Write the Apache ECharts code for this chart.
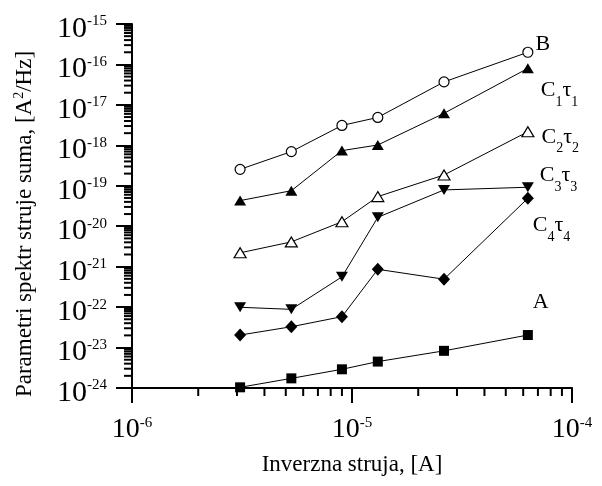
<!DOCTYPE html>
<html>
<head>
<meta charset="utf-8">
<script src="https://cdn.jsdelivr.net/npm/echarts@6/dist/echarts.min.js"></script>
<style>
  html, body { margin: 0; padding: 0; background: #fff; }
  #myChart { width: 602px; height: 486px; }
</style>
</head>
<body>
<div id="myChart"></div>
<script>
// inverzna struja [A]
var struja = [3.1e-6, 5.3e-6, 9.0e-6, 1.31e-5, 2.62e-5, 6.3e-5]

// parametri spektra [A^2/Hz]
var seriesA  = [1.04e-24, 1.73e-24, 2.9e-24, 4.5e-24, 8.3e-24, 2.04e-23]
var seriesB  = [2.55e-19, 7.0e-19, 3.1e-18, 4.9e-18, 3.7e-17, 2.0e-16]
var seriesC1 = [4.3e-20, 7.55e-20, 7.4e-19, 1.02e-18, 6.2e-18, 8.0e-17]
var seriesC2 = [2.2e-21, 4.1e-21, 1.29e-20, 5.4e-20, 1.85e-19, 2.17e-18]
var seriesC3 = [9.9e-23, 8.8e-23, 5.6e-22, 1.66e-20, 7.9e-20, 9.2e-20]
var seriesC4 = [2.04e-23, 3.27e-23, 5.8e-23, 8.6e-22, 4.9e-22, 4.9e-20]

// axis range (decades) and minor tick steps inside a decade
var xMin = 1e-6, xMax = 1e-4
var yMin = 1e-24, yMax = 1e-15
var xDecades = [-6, -5]
var yDecades = [-24, -23, -22, -21, -20, -19, -18, -17, -16]
var minorSteps = [2, 3, 4, 5, 6, 7, 8, 9]

// y values are plotted in units of 1e-24 so the log scale keeps its precision
var yExp = -24
var yUnit = Math.pow(10, yExp)

var font = '"Liberation Serif", "Times New Roman", serif'

var labelRich = {
  m: { fontFamily: font, fontSize: 22, lineHeight: 24, verticalAlign: 'top', color: '#000' },
  d: { fontFamily: font, fontSize: 14, lineHeight: 14, verticalAlign: 'top', padding: [16, 0, 0, 0], color: '#000' }
}

function makeSeries (name, vals, symbol, size, open, rotate, label, offset) {
  var data = vals.map(function (v, i) {
    var p = { value: [struja[i], v / yUnit] }
    if (i === vals.length - 1) {
      p.label = { show: true, position: 'right', formatter: label, offset: offset, rich: labelRich }
    }
    return p
  })
  return {
    name: name,
    type: 'line',
    data: data,
    symbol: symbol,
    symbolSize: size,
    symbolRotate: rotate,
    showAllSymbol: true,
    lineStyle: { color: '#000', width: 1 },
    itemStyle: open ? { color: '#fff', borderColor: '#000', borderWidth: 1.2 } : { color: '#000', borderWidth: 0 },
    emphasis: { disabled: true },
    z: 3
  }
}

// minor ticks at 2..9 of every decade (log axis draws only the decades)
function minorTickSeries (vertical) {
  var data = []
  var decades = vertical ? yDecades : xDecades
  decades.forEach(function (k) {
    minorSteps.forEach(function (m) {
      var v = m * Math.pow(10, k)
      data.push(vertical ? [xMin, v / yUnit] : [v, yMin / yUnit])
    })
  })
  return {
    type: 'custom',
    silent: true,
    clip: false,
    data: data,
    z: 5,
    renderItem: function (params, api) {
      var p = api.coord([api.value(0), api.value(1)])
      var shape = vertical
        ? { x1: p[0], y1: p[1], x2: p[0] - 8, y2: p[1] }
        : { x1: p[0], y1: p[1], x2: p[0], y2: p[1] + 8 }
      return { type: 'line', shape: shape, style: { stroke: '#000', lineWidth: 2 } }
    }
  }
}

function drawLine () {
  var myChart = echarts.init(document.getElementById('myChart'))
  myChart.setOption({
    animation: false,
    backgroundColor: '#fff',
    grid: { left: 132, right: 30, top: 24, bottom: 98, containLabel: false, outerBoundsMode: 'none' },
    xAxis: {
      type: 'log',
      logBase: 10,
      min: xMin,
      max: xMax,
      axisLine: { show: true, lineStyle: { color: '#000', width: 2 } },
      axisTick: { show: true, length: 15, lineStyle: { color: '#000', width: 2 } },
      splitLine: { show: false },
      axisLabel: {
        margin: 28,
        showMinLabel: true,
        showMaxLabel: true,
        formatter: function (v) {
          return '{b|10}{s|' + Math.round(Math.log10(v)) + '}'
        },
        rich: {
          b: { fontFamily: font, fontSize: 28, lineHeight: 30, verticalAlign: 'top', color: '#000' },
          s: { fontFamily: font, fontSize: 15, lineHeight: 12, verticalAlign: 'top', color: '#000' }
        }
      },
      name: 'Inverzna struja, [A]',
      nameLocation: 'middle',
      nameGap: 64,
      nameTextStyle: { fontFamily: font, fontSize: 23, lineHeight: 26, color: '#000' }
    },
    yAxis: {
      type: 'log',
      logBase: 10,
      min: yMin / yUnit,
      max: yMax / yUnit,
      axisLine: { show: true, lineStyle: { color: '#000', width: 2 } },
      axisTick: { show: true, length: 16, lineStyle: { color: '#000', width: 2 } },
      splitLine: { show: false },
      axisLabel: {
        margin: 25,
        padding: [10, 0, 0, 0],
        showMinLabel: true,
        showMaxLabel: true,
        formatter: function (v) {
          return '{b|10}{s|' + (Math.round(Math.log10(v)) + yExp) + '}'
        },
        rich: {
          b: { fontFamily: font, fontSize: 30, lineHeight: 30, verticalAlign: 'top', color: '#000' },
          s: { fontFamily: font, fontSize: 15, lineHeight: 10, verticalAlign: 'top', color: '#000' }
        }
      },
      name: 'Parametri spektr struje suma, [A{s|2}/Hz]',
      nameLocation: 'middle',
      nameGap: 94,
      nameTextStyle: {
        fontFamily: font, fontSize: 23, lineHeight: 26, color: '#000',
        padding: [0, 36, 0, 0],
        rich: { s: { fontFamily: font, fontSize: 14, lineHeight: 14, verticalAlign: 'top', color: '#000' } }
      }
    },
    series: [
      minorTickSeries(false),
      minorTickSeries(true),
      makeSeries('A', seriesA, 'rect', 10, false, 0, '{m|A}', [-5, -32]),
      makeSeries('B', seriesB, 'circle', 10, true, 0, '{m|B}', [-3, -7]),
      makeSeries('C1', seriesC1, 'triangle', [12, 10], false, 0, '{m|C}{d|1}{m|τ}{d|1}', [2, 23]),
      makeSeries('C2', seriesC2, 'triangle', [12, 10], true, 0, '{m|C}{d|2}{m|τ}{d|2}', [2, 6]),
      makeSeries('C3', seriesC3, 'triangle', [12, 10], false, 180, '{m|C}{d|3}{m|τ}{d|3}', [1, -11]),
      makeSeries('C4', seriesC4, 'diamond', [12, 13], false, 0, '{m|C}{d|4}{m|τ}{d|4}', [-6, 28])
    ]
  })
}

drawLine()
</script>
</body>
</html>
